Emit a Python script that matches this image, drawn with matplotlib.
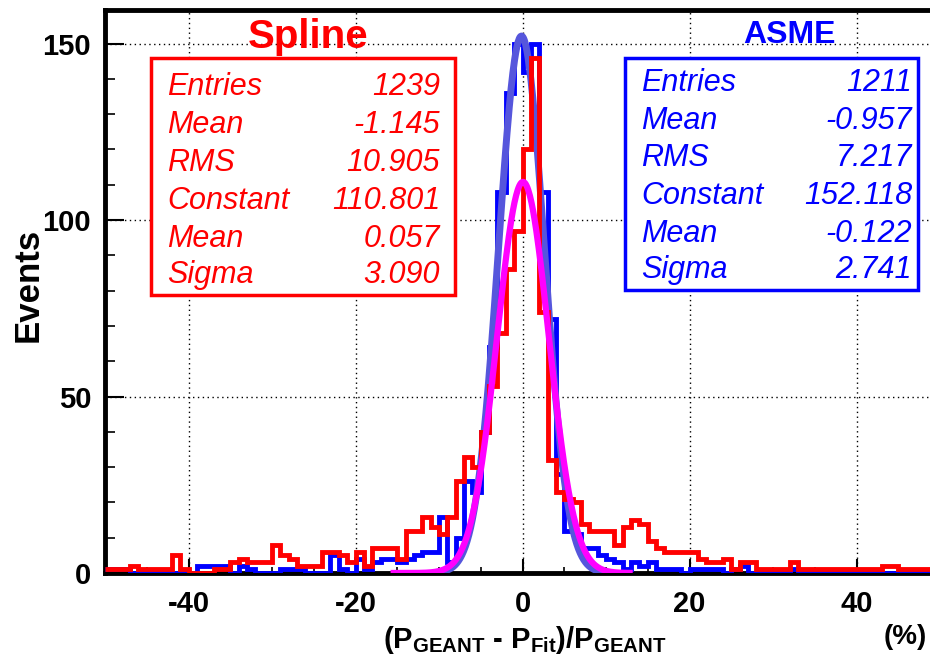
import matplotlib
matplotlib.use("Agg")
import matplotlib.pyplot as plt
import numpy as np
from matplotlib.ticker import MultipleLocator

# histogram binning: 100 bins of width 1 between -50 and 50
bin_lo = -50
bin_hi = 50

spline_counts = [1, 1, 1, 2, 1, 1, 1, 1, 5, 1,
                 0, 0, 0, 1, 1, 3, 4, 3, 3, 3,
                 8, 5, 4, 2, 2, 2, 6, 6, 5, 3,
                 6, 2, 7, 7, 7, 4, 12, 12, 16, 13,
                 11, 16, 26, 33, 30, 40, 53, 68, 86, 97,
                 120, 146, 74, 32, 23, 21, 20, 14, 12, 12,
                 12, 8, 13, 15, 14, 9, 7, 6, 6, 6,
                 6, 4, 3, 3, 4, 1, 3, 3, 1, 1,
                 1, 1, 3, 1, 1, 1, 1, 1, 1, 1,
                 1, 1, 1, 2, 2, 1, 1, 1, 1, 1]

asme_counts = [1, 1, 1, 0, 0, 0, 0, 0, 0, 0,
               0, 2, 2, 2, 2, 0, 2, 1, 0, 0,
               0, 1, 1, 1, 0, 0, 0, 5, 1, 0,
               4, 1, 3, 4, 4, 3, 4, 5, 6, 6,
               16, 3, 10, 26, 23, 40, 64, 108, 136, 150,
               142, 150, 108, 72, 28, 12, 11, 7, 7, 5,
               4, 3, 1, 3, 2, 3, 1, 1, 1, 0,
               1, 1, 1, 1, 0, 1, 2, 0, 0, 0,
               0, 0, 1, 0, 0, 0, 0, 0, 0, 0,
               0, 0, 0, 0, 0, 0, 0, 0, 0, 0]

# gaussian fit results (constant, mean, sigma) and drawn range
spline_fit = [110.801, 0.057, 3.090]
spline_fit_range = [-15.8, 13.2]
asme_fit = [152.118, -0.122, 2.741]
asme_fit_range = [-10.5, 10.5]

stat_labels = ["Entries", "Mean", "RMS", "Constant", "Mean", "Sigma"]
spline_stats = ["1239", "-1.145", "10.905", "110.801", "0.057", "3.090"]
asme_stats = ["1211", "-0.957", "7.217", "152.118", "-0.122", "2.741"]

W, H = 930, 665
plt.rcParams['font.family'] = ['Liberation Sans', 'DejaVu Sans']
plt.rcParams['axes.unicode_minus'] = False
plt.rcParams['mathtext.fontset'] = 'custom'
plt.rcParams['mathtext.rm'] = 'Liberation Sans:bold'
plt.rcParams['mathtext.bf'] = 'Liberation Sans:bold'
plt.rcParams['mathtext.it'] = 'Liberation Sans:bold'

fig = plt.figure(figsize=(W / 100, H / 100), dpi=100, facecolor='w')


def fx(px):
    return px / W


def fy(py):
    return 1 - py / H


ax = fig.add_axes([fx(105), fy(573), fx(940) - fx(105), fy(10) - fy(573)])

edges = np.arange(bin_lo, bin_hi + 1, 1)


def gaus(x, p):
    return p[0] * np.exp(-0.5 * ((x - p[1]) / p[2]) ** 2)


ax.stairs(asme_counts, edges, color='#0000ff', linewidth=3.5, baseline=None, zorder=3)
xa = np.linspace(asme_fit_range[0], asme_fit_range[1], 300)
ax.plot(xa, gaus(xa, asme_fit), color='#5656dc', linewidth=5, zorder=4,
        solid_capstyle='butt')
ax.stairs(spline_counts, edges, color='#ff0000', linewidth=3.5, baseline=None, zorder=5)
xs = np.linspace(spline_fit_range[0], spline_fit_range[1], 300)
ax.plot(xs, gaus(xs, spline_fit), color='#ff00ff', linewidth=4.5, zorder=6,
        solid_capstyle='butt')

ax.set_xlim(-50, 50)
ax.set_ylim(0, 159.5)

ax.xaxis.set_major_locator(MultipleLocator(20))
ax.xaxis.set_minor_locator(MultipleLocator(5))
ax.yaxis.set_major_locator(MultipleLocator(50))
ax.yaxis.set_minor_locator(MultipleLocator(10))

ax.grid(which='major', linestyle=(0, (1, 2.5)), color='k', linewidth=1)
ax.tick_params(axis='x', which='major', direction='in', length=10, width=1.5,
               labelsize=21, pad=12)
ax.tick_params(axis='x', which='minor', direction='in', length=4.5, width=1.2)
ax.tick_params(axis='y', which='major', direction='in', length=14, width=1.5,
               labelsize=21, pad=10)
ax.tick_params(axis='y', which='minor', direction='in', length=7, width=1.2)
for lab in ax.get_xticklabels() + ax.get_yticklabels():
    lab.set_fontweight('bold')

for side in ['left', 'bottom', 'top']:
    ax.spines[side].set_linewidth(3.5)
ax.spines['right'].set_visible(False)

fig.text(fx(28), fy(285), "Events", rotation=90, fontsize=25, fontweight='bold',
         ha='center', va='center')
fig.text(fx(525), fy(640),
         r"(P$_{\mathbf{GEANT}}$ - P$_{\mathbf{Fit}}$)/P$_{\mathbf{GEANT}}$",
         fontsize=21, fontweight='bold', ha='center', va='center')
fig.text(fx(905), fy(637), "(%)", fontsize=20, fontweight='bold',
         ha='center', va='center')


def stat_box(x0, x1, y0, y1, rows, labels, values, color, label_x, value_x):
    rect = plt.Rectangle((fx(x0), fy(y1)), fx(x1) - fx(x0), fy(y0) - fy(y1),
                         transform=fig.transFigure, facecolor='white',
                         edgecolor=color, linewidth=2.5, zorder=10)
    fig.add_artist(rect)
    for r, lab, val in zip(rows, labels, values):
        fig.text(fx(label_x), fy(r), lab, color=color, fontsize=22, style='italic',
                 ha='left', va='center', zorder=11)
        fig.text(fx(value_x), fy(r), val, color=color, fontsize=22, style='italic',
                 ha='right', va='center', zorder=11)


stat_box(151, 455, 58, 295, [87, 125, 163, 201, 239, 275], stat_labels,
         spline_stats, '#ff0000', 167, 440)
stat_box(625, 918, 58, 290, [83, 121, 158, 196, 234, 270], stat_labels,
         asme_stats, '#0000ff', 641, 912)

fig.text(fx(308), fy(37), "Spline", color='#ff0000', fontsize=29, fontweight='bold',
         ha='center', va='center')
fig.text(fx(789), fy(35), "ASME", color='#0000ff', fontsize=23, fontweight='bold',
         ha='center', va='center')

fig.savefig("out.png", dpi=100, facecolor='w')
